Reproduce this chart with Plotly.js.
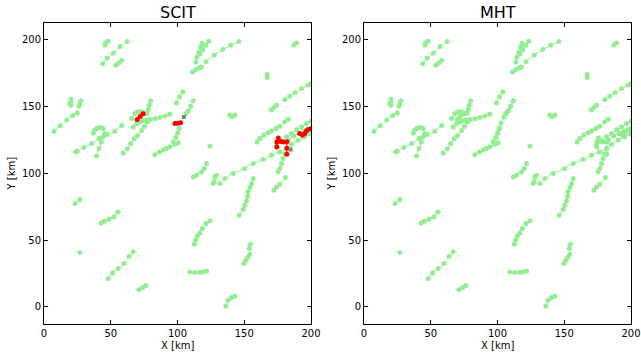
<!DOCTYPE html>
<html>
<head>
<meta charset="utf-8">
<script src="https://cdn.plot.ly/plotly-3.0.1.min.js"></script>
<style>html,body{margin:0;padding:0;background:#fff;}#chart{width:641px;height:357px;}</style>
</head>
<body>
<div id="chart"></div>
<script>
// Track data (km), one inner list per track
const greenX = [
  [45.7,46.2,48.1],
  [43.9,47.4,51.9,56.9,62.3],
  [53.9,56,58.4],
  [113.8,114.5,116.0,117.5,118.3],
  [116.8,119.0,121.3,123.5],
  [111.3,113.8,116.2,118.0],
  [121.3,127.5,133.8,139.8,146.0],
  [187.1,189.1],
  [167.1,167.1],
  [20.2,20,19.5,20],
  [27.5,26.7,26.2],
  [7.5,12,17,21.5,24.9],
  [36.9,37.9,39.4,41.2,42.9,44.2],
  [23.7,24.9],
  [29.9,35.7,41.2,47.4,52.9,58.2],
  [39.4,41.2,42.9,44.4,45.4],
  [77.3,78.1,78.8,79.9],
  [99.1,101.6,104.1],
  [106.3,108,109.8,111.8],
  [96.8,98.8,100.1,101.3],
  [83.1,86.3,89.3,91.8,94.3,98.1,100.5],
  [59.4,62.4,64.9,67.6,70.1,73.1,75.1,77.6],
  [66.8,69.4,71.9,74.3,76.3,79.3,83.1,86.8,90.6,94.3],
  [65.6,68.1,70.6,73.1,75.6],
  [139.2,140.5,143],
  [124.3],
  [111.8,114.3,118,120,121.8],
  [126.7,127.5,128,129.3],
  [131.7,135.5,141.7,150.4,156.7,164.2,170.4,176.6,181.7,185.4,190.3,195.4,199.5],
  [159.7,161.7,164.7,167.9,170.4,173.7,176.6,180.4,182.9],
  [170.4,172.2,174.2],
  [180.4,184.1,187.9,192.9,197.8,200],
  [174.2,178,181.7,185.4,189.2,192.9,196.6,200],
  [183,187,191,195,199],
  [175.4,176.6,177.9,179.1,180.4],
  [23.2,26.9],
  [42.7,45.1,48.7,52.4,55.2],
  [26.9],
  [48.1,51.4,55.6,59.9,63.8,66.8],
  [71.1,73.9,76.3],
  [146.2,149.2,150.4,151.7,152.5,152.9,154.2,155.5,156.7],
  [172.2,174.2,176.6,180.9],
  [112.6,113.6,114.7,116.8,118.5,121.3,124.3],
  [149.7,151.2,152.5,154.2,153.7,154.7],
  [109.3,113,116.8,119.2,121.8],
  [136.2,138,140.5,143]
];
const greenY = [
  [196,197.7,198.9],
  [181.9,186.1,189.9,194.9,198.6],
  [180.8,182.5,184.6],
  [183.2,186.9,190.6,194.4,197.4],
  [189.2,192.2,195.9,198.9],
  [175.9,177.7,178.9,179.6],
  [183.4,188.4,192.7,195.9,198.7],
  [196,197.6],
  [174.2,171.7],
  [155.5,153.5,152.3,151],
  [154.2,151.7,150.2],
  [131.5,135.5,139.8,143.3,145.2],
  [130.2,132.3,133.5,134,134.3,133.5],
  [116,116.5],
  [119.3,122.3,126,129,131.5,135.8],
  [113,118.6,123.5,127.3,129.8],
  [144.8,147.7,151,154.2],
  [152.7,157.3,161.1],
  [144.8,146.7,150.2,154.2],
  [123.5,126.8,130.2,133.5],
  [113.8,116,117.4,118.6,119.8,121.8,122.8],
  [115.1,118.4,122.1,125.9,128.3,132.1,135.1,138.3],
  [134.7,137.3,138.5,139.3,139.8,140.3,140.8,141.8,142.8,144.1],
  [141,144.8,146,146,145],
  [143.6,142.3,143.6],
  [120.3],
  [97.3,98.6,101,103.6,107.3],
  [92.4,93.6,97.3,98.6],
  [92.4,96.1,99.9,103.6,107.4,110.3,113.6,116,118.5,121.5,124.8,127.3,129.5],
  [123.5,126,128.6,130.3,131.6,133.5,135.3,138.5,140.5],
  [147.3,149.3,151],
  [155.3,157.7,160.2,163.5,166,167],
  [121.1,124.3,127.3,129.8,132.8,134.7,137.3,139],
  [125,128,130,131.5,133],
  [101.1,103.6,107.3,111.1,114.8],
  [77.4,80.4],
  [62.9,64.1,65.6,67.4,71.1],
  [40.7],
  [21.3,25.4,28.7,32.5,37.9,41.2],
  [13,14.5,16],
  [68.6,72.9,76.1,79.4,82.9,86.1,89.4,92.4,96.1],
  [87.4,89.8,91.8,96.9],
  [46.9,49.9,52.9,55.4,58.7,62.4,64.4],
  [32.5,35,37,39.4,43.7,46.9],
  [26.2,25.7,26,26.2,26.9],
  [0.5,5,7,8]
];
// SCIT false tracks (red) and missed points (gray)
const redX = [
  [69.8,72,74.3],
  [98.1,100.2,102.3],
  [174.4,174.4,175.5,177.4,179.6],
  [181.9,181.9,181.9],
  [191.6,193.6,195.4,196.6,197.8,200]
];
const redY = [
  [140.3,142.5,144.6],
  [137.3,137.5,137.8],
  [119.6,123.4,126.4,123.8,123.4],
  [123.6,118.7,114.2],
  [129.8,128.5,129.8,131.8,132.8,133.5]
];
const grayX = [104.8,184.7];
const grayY = [142.2,117.8];
// MHT: bridged track through the centre
const mhtBridgeX = [96.8,98.8,100.1,101.3,102.5,104.8,106.3,108,109.8,111.8];
const mhtBridgeY = [123.5,126.8,130.2,133.5,137.5,142.2,144.8,146.7,150.2,154.2];

const panelTitles = ['SCIT','MHT'];
const xTicks = [0,50,100,150,200];
const yTicks = [0,50,100,150,200];

const GREEN = '#90EE90';
const traces = [];
function addTrack(xs, ys, color, xa, ya, sym) {
  traces.push({
    type: 'scatter', mode: xs.length > 1 ? 'lines+markers' : 'markers',
    x: xs, y: ys, xaxis: xa, yaxis: ya, showlegend: false, hoverinfo: 'skip',
    line: {color: color, width: 1},
    marker: {color: color, size: 5, symbol: sym || 'circle', line: {width: 0}}
  });
}
// SCIT panel
greenX.forEach((xs, i) => addTrack(xs, greenY[i], GREEN, 'x', 'y'));
redX.forEach((xs, i) => addTrack(xs, redY[i], '#FF0000', 'x', 'y'));
addTrack(grayX, grayY, '#808080', 'x', 'y', 'square');
traces[traces.length-1].mode = 'markers';
traces[traces.length-1].marker.size = 4;
// MHT panel
greenX.forEach((xs, i) => addTrack(xs, greenY[i], GREEN, 'x2', 'y2'));
redX.forEach((xs, i) => { if (i !== 1) addTrack(xs, redY[i], GREEN, 'x2', 'y2'); });
addTrack(mhtBridgeX, mhtBridgeY, GREEN, 'x2', 'y2');

const FONT = 'DejaVu Sans, sans-serif';
function xAxis(dom, anchor) {
  return {domain: dom, anchor: anchor, range: [0,200], tickvals: xTicks,
    ticks: 'inside', ticklen: 4, tickcolor: '#000', mirror: 'ticks', showline: true,
    linecolor: '#000', linewidth: 1, showgrid: false, zeroline: false,
    tickfont: {family: FONT, size: 10, color: '#000'}, fixedrange: true};
}
function yAxis(dom, anchor) {
  return {domain: dom, anchor: anchor, range: [-13,212.7], tickvals: yTicks,
    ticks: 'inside', ticklen: 4, tickcolor: '#000', mirror: 'ticks', showline: true,
    linecolor: '#000', linewidth: 1, showgrid: false, zeroline: false,
    tickfont: {family: FONT, size: 10, color: '#000'}, fixedrange: true};
}
const W = 641, H = 357;
const xd1 = [44/W, 311/W], xd2 = [364/W, 631/W];
const yd = [1-324.3/H, 1-22.7/H];
const ann = [];
[xd1, xd2].forEach((d, i) => {
  const cx = (d[0]+d[1])/2;
  ann.push({text: panelTitles[i], x: cx, y: 1-12.5/H, xref: 'paper', yref: 'paper',
    showarrow: false, xanchor: 'center', yanchor: 'middle', font: {family: FONT, size: 16, color: '#000'}});
  ann.push({text: 'X [km]', x: cx, y: 1-345/H, xref: 'paper', yref: 'paper',
    showarrow: false, xanchor: 'center', yanchor: 'middle', font: {family: FONT, size: 10, color: '#000'}});
  ann.push({text: 'Y [km]', x: (i === 0 ? 11 : 331)/W, y: (yd[0]+yd[1])/2, xref: 'paper', yref: 'paper',
    showarrow: false, xanchor: 'center', yanchor: 'middle', textangle: -90, font: {family: FONT, size: 10, color: '#000'}});
});
const layout = {
  width: W, height: H, margin: {l:0, r:0, t:0, b:0},
  paper_bgcolor: '#fff', plot_bgcolor: '#fff', showlegend: false,
  xaxis: xAxis(xd1, 'y'), yaxis: yAxis(yd, 'x'),
  xaxis2: xAxis(xd2, 'y2'), yaxis2: yAxis(yd, 'x2'),
  annotations: ann
};
Plotly.newPlot('chart', traces, layout, {displayModeBar: false, staticPlot: true});
</script>
</body>
</html>
